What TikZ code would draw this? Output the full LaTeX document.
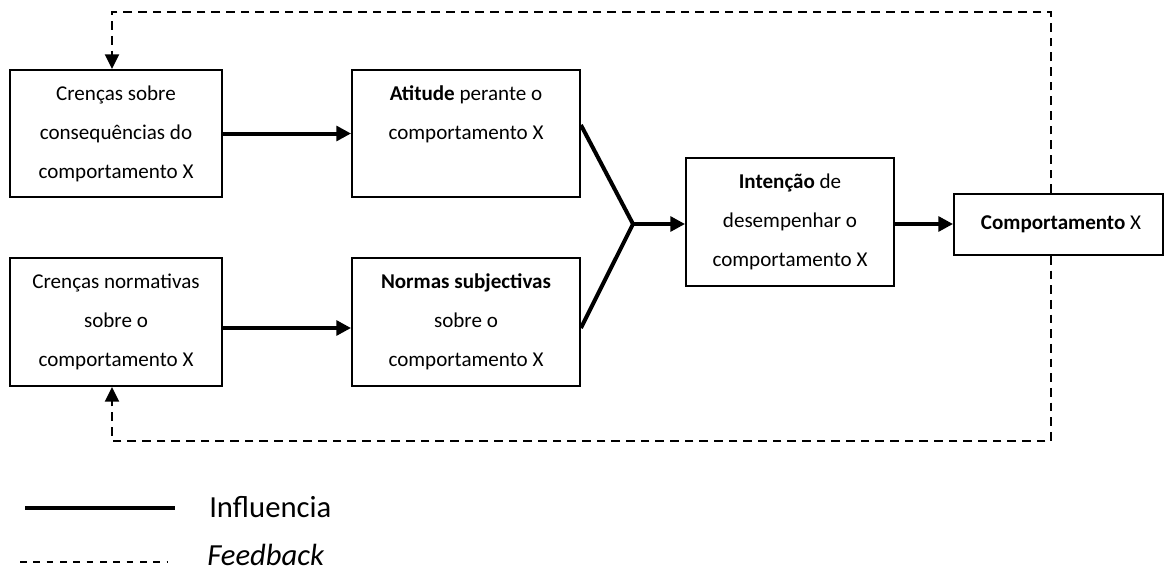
\documentclass[tikz,border=0pt]{standalone}
\usepackage{fontspec}
\setmainfont{Carlito}
\usetikzlibrary{arrows.meta,calc}
\begin{document}
\begin{tikzpicture}[x=0.75pt,y=-0.75pt,
  box/.style={draw, line width=1.4pt, rectangle, inner sep=0pt},
  txt/.style={align=center, font=\fontsize{15.8}{29.25}\selectfont, inner sep=0pt},
  infl/.style={line width=3pt, -{Triangle[length=11pt,width=11pt]}},
  fb/.style={line width=1.5pt, dash pattern=on 6.5pt off 4.5pt, -{Triangle[length=11pt,width=10.5pt]}},
  legtxt/.style={font=\fontsize{23}{23}\selectfont, anchor=base west, inner sep=0pt}]
\useasboundingbox (0,0) rectangle (1165,572);
% boxes
\node[box, minimum width=159pt, minimum height=95.25pt] (A) at (116,133.5) {};
\node[box, minimum width=171pt, minimum height=95.25pt] (B) at (466,133.5) {};
\node[box, minimum width=159pt, minimum height=96pt] (C) at (116,322) {};
\node[box, minimum width=171pt, minimum height=96pt] (D) at (466,322) {};
\node[box, minimum width=156pt, minimum height=96pt] (E) at (790,222) {};
\node[box, minimum width=156.75pt, minimum height=45.75pt] (F) at (1058.5,224.5) {};
% texts
\node[txt] (At) at (A.center) {Crenças sobre\\consequências do\\comportamento X};
\node[txt] (Bt) at (466,114.5) {\textbf{Atitude} perante o\\comportamento X};
\node[txt] (Ct) at (C.center) {Crenças normativas\\sobre o\\comportamento X};
\node[txt] (Dt) at (D.center) {\textbf{Normas subjectivas}\\sobre o\\comportamento X};
\node[txt] (Et) at (E.center) {\textbf{Intenção} de\\desempenhar o\\comportamento X};
\node[txt] (Ft) at (1061,224.5) {\textbf{Comportamento} X};
% influence arrows
\draw[infl] (A.east) -- (B.west);
\draw[infl] (C.east |- 0,328) -- (D.west |- 0,328);
\coordinate (J) at (633,224);
\draw[line width=3pt, line join=miter] (B.east |- 0,125) -- (J) -- (D.east |- 0,328);
\draw[infl] (J) -- (J -| E.west);
\draw[infl] (E.east |- J) -- (F.west |- J);
% feedback
\coordinate (t1) at (112,12);
\coordinate (t2) at (1051,12);
\coordinate (b1) at (112,441);
\coordinate (b2) at (1051,441);
\draw[fb] (F.north -| t2) -- (t2) -- (t1) -- (t1 |- A.north);
\draw[fb] (F.south -| b2) -- (b2) -- (b1) -- (b1 |- C.south);
% legend
\coordinate (l1) at (25,508);
\coordinate (l2) at (175,508);
\draw[line width=3pt] (l1) -- (l2);
\node[legtxt] (li) at (209,517) {Influencia};
\coordinate (l3) at (20,562);
\coordinate (l4) at (168,562);
\draw[line width=1pt, dash pattern=on 5pt off 5pt] (l3) -- (l4);
\node[legtxt] (lf) at (207,565) {\itshape Feedback};
\end{tikzpicture}
\end{document}
